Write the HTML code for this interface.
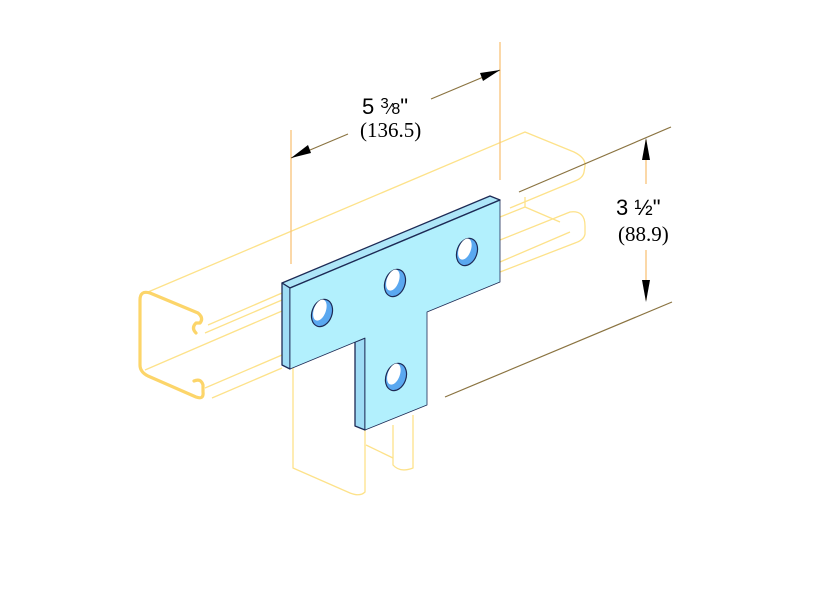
<!DOCTYPE html>
<html><head><meta charset="utf-8"><style>
html,body{margin:0;padding:0;background:#fff;}
svg{display:block;}
</style></head><body>
<svg width="835" height="593" viewBox="0 0 835 593" xmlns="http://www.w3.org/2000/svg">
<g fill="none" stroke="#fde28a" stroke-width="1.3" stroke-linejoin="round">
  <path d="M148,292 L525,132 L574,152 Q586,158 585,166 L584,172 Q583,178 575,181 L510,208"/>
  <path d="M525,197 L525,207 L560,222"/>
  <path d="M500,217 L525,207"/>
  <path d="M500,240 L570,212 Q585,210 585,226 L585,234 Q584,240 575,243 L500,272"/>
  <path d="M500,262 L570,232"/>
  <path d="M205,333 L282,300"/>
  <path d="M208,325 L282,293"/>
  <path d="M145,370 L282,311"/>
  <path d="M205,388 L282,355"/>
  <path d="M212,398 L282,368"/>
  <path d="M293,368 L293,468 L350,493 Q360,497 365,492 L365,430"/>
  <path d="M366,445 L393,458"/>
  <path d="M393,425 L393,465 Q400,473 413,468 L413,415"/>
</g>
<g fill="none" stroke="#fcd56a" stroke-width="3.2" stroke-linejoin="round" stroke-linecap="round">
  <path d="M196,333 Q191,328 196,323 L200,323 Q204,318 198,313 L150,293 Q140,290 140,300 L140,365 Q140,372 148,376 L196,397 Q204,400 203,392 L203,385 Q201,378 194,381"/>
</g>
<g stroke="#f9c27a" stroke-width="1.3">
  <line x1="291" y1="130" x2="291" y2="264"/>
  <line x1="500" y1="42" x2="500" y2="180"/>
  <line x1="646" y1="140" x2="646" y2="184"/>
  <line x1="646" y1="250" x2="646" y2="300"/>
</g>
<g stroke="#8a7340" stroke-width="1.2">
  <line x1="291" y1="158" x2="348" y2="134"/>
  <line x1="431" y1="99" x2="500" y2="70"/>
  <line x1="519" y1="192" x2="671" y2="127"/>
  <line x1="445" y1="397" x2="672" y2="302"/>
</g>
<g fill="#000">
  <polygon points="291,158 308,145 311,153"/>
  <polygon points="500,70 480,73 483,81"/>
  <polygon points="646,138 642,160 650,160"/>
  <polygon points="646,302 642,280 650,280"/>
</g>
<g stroke="#1d2a55" stroke-width="1.3" stroke-linejoin="round">
  <polygon fill="#aee6f8" points="282,283 490,196 500,200 290,288"/>
  <polygon fill="#9fdcf5" points="282,283 290,288 290,369 282,365"/>
  <polygon fill="#9fdcf5" points="355,342 365,338 365,430 355,426"/>
  <polygon fill="#b2f0fd" stroke="none" points="290,288 500,200 500,282 427,312 427,405 365,430 365,338 290,369"/>
  <polyline fill="none" points="290,288 500,200"/>
  <polyline fill="none" stroke-width="0.8" points="500,200 500,282 427,312 427,405 365,430 365,338 290,369 290,288"/>
</g>
<g stroke="#1d2a55" stroke-width="1.2">
  <g transform="translate(322,313) rotate(20)"><ellipse rx="10" ry="14" fill="#5aa8f0"/><ellipse cx="-3" cy="-2" rx="6" ry="11" fill="#fff" stroke="none"/></g>
  <g transform="translate(395,283) rotate(20)"><ellipse rx="10" ry="14" fill="#5aa8f0"/><ellipse cx="-3" cy="-2" rx="6" ry="11" fill="#fff" stroke="none"/></g>
  <g transform="translate(467,252) rotate(20)"><ellipse rx="10" ry="14" fill="#5aa8f0"/><ellipse cx="-3" cy="-2" rx="6" ry="11" fill="#fff" stroke="none"/></g>
  <g transform="translate(396,377) rotate(20)"><ellipse rx="10" ry="14" fill="#5aa8f0"/><ellipse cx="-3" cy="-2" rx="6" ry="11" fill="#fff" stroke="none"/></g>
</g>
<g fill="#000">
  <text x="362" y="114" font-family="Liberation Sans, sans-serif" font-size="22">5 <tspan font-size="15" dy="-6">3</tspan><tspan font-size="16" dy="6">⁄8</tspan>"</text>
  <text x="360" y="137" font-family="Liberation Serif, serif" font-size="21">(136.5)</text>
  <text x="616" y="215" font-family="Liberation Sans, sans-serif" font-size="22">3 ½"</text>
  <text x="618" y="241" font-family="Liberation Serif, serif" font-size="21">(88.9)</text>
</g>
</svg>
</body></html>
